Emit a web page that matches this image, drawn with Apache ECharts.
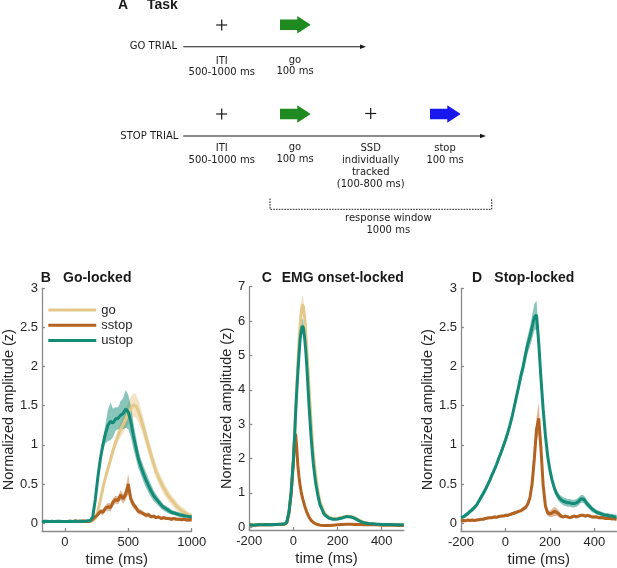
<!DOCTYPE html>
<html><head><meta charset="utf-8">
<script src="https://cdn.jsdelivr.net/npm/echarts@6/dist/echarts.min.js"></script>
<style>html,body{margin:0;padding:0;background:#fff}#c{width:617px;height:568px}</style>
</head><body><div id="c"></div>
<script>
// ---------- Panel B: go-locked ----------
const tB = [-180,-160,-140,-120,-100,-80,-60,-40,-20,0,20,40,60,80,100,120,140,160,180,200,
  220,240,260,280,300,320,340,360,380,400,420,440,460,480,500,520,540,560,580,600,
  620,640,660,680,700,720,740,760,780,800,820,840,860,880,900,920,940,960,980,1000];
const goB = [0.02,0.02,0.02,0.02,0.02,0.02,0.02,0.02,0.02,0.02,0.02,0.02,0.02,0.02,0.02,0.02,0.02,0.02,0.02,0.02,
  0.03,0.06,0.15,0.29,0.45,0.58,0.70,0.81,0.93,1.03,1.12,1.20,1.26,1.33,1.40,1.46,1.51,1.50,1.43,1.33,
  1.22,1.10,0.98,0.87,0.76,0.66,0.58,0.51,0.45,0.39,0.34,0.30,0.26,0.22,0.19,0.16,0.14,0.12,0.10,0.09];
const goBhw = [0.01,0.01,0.01,0.01,0.01,0.01,0.01,0.01,0.01,0.01,0.01,0.01,0.01,0.01,0.01,0.01,0.01,0.01,0.01,0.01,
  0.01,0.02,0.04,0.04,0.04,0.05,0.06,0.06,0.07,0.07,0.08,0.10,0.11,0.12,0.14,0.15,0.15,0.15,0.14,0.13,
  0.12,0.11,0.10,0.10,0.09,0.09,0.08,0.08,0.08,0.07,0.07,0.06,0.06,0.06,0.05,0.05,0.05,0.04,0.04,0.04];
const sstB = [0.02,0.02,0.025,0.02,0.02,0.02,0.025,0.02,0.02,0.02,0.02,0.025,0.02,0.03,0.025,0.02,0.03,0.025,0.02,0.03,
  0.05,0.08,0.11,0.15,0.14,0.19,0.21,0.20,0.27,0.30,0.29,0.36,0.31,0.37,0.50,0.31,0.24,0.20,0.15,0.14,
  0.12,0.10,0.11,0.08,0.09,0.07,0.08,0.06,0.07,0.06,0.06,0.05,0.06,0.05,0.05,0.045,0.05,0.04,0.045,0.04];
const sstBhw = [0.01,0.01,0.01,0.01,0.01,0.01,0.01,0.01,0.01,0.01,0.01,0.01,0.01,0.01,0.01,0.01,0.01,0.01,0.01,0.01,
  0.01,0.02,0.03,0.03,0.04,0.04,0.05,0.05,0.05,0.05,0.05,0.06,0.06,0.07,0.13,0.06,0.05,0.04,0.04,0.03,
  0.03,0.03,0.03,0.02,0.02,0.02,0.02,0.02,0.02,0.02,0.02,0.02,0.02,0.02,0.02,0.02,0.02,0.02,0.02,0.02];
const ustB = [0.02,0.025,0.02,0.02,0.025,0.02,0.02,0.025,0.02,0.02,0.02,0.025,0.02,0.025,0.02,0.03,0.02,0.025,0.03,0.03,
  0.08,0.30,0.58,0.82,1.00,1.14,1.25,1.30,1.28,1.33,1.34,1.38,1.40,1.46,1.42,1.30,1.12,0.97,0.82,0.72,
  0.63,0.55,0.48,0.41,0.35,0.31,0.27,0.23,0.20,0.18,0.16,0.14,0.13,0.12,0.11,0.10,0.095,0.09,0.085,0.08];
const ustBhw = [0.01,0.01,0.01,0.01,0.01,0.01,0.01,0.01,0.01,0.01,0.01,0.01,0.01,0.01,0.01,0.01,0.01,0.01,0.01,0.01,
  0.02,0.05,0.05,0.05,0.08,0.12,0.20,0.24,0.18,0.15,0.14,0.18,0.20,0.24,0.22,0.20,0.17,0.14,0.12,0.10,
  0.10,0.10,0.09,0.08,0.07,0.06,0.05,0.05,0.04,0.04,0.04,0.03,0.03,0.03,0.03,0.03,0.03,0.03,0.03,0.03];

// ---------- Panel C: EMG onset-locked ----------
const tC = [-200,-180,-160,-140,-120,-100,-80,-60,-40,-30,-20,-10,
  0,5,10,15,20,25,30,35,40,45,50,55,60,70,80,90,100,110,120,
  140,160,180,200,220,240,260,280,300,320,340,360,380,400,420,440,460,480,500];
const goC = [0.07,0.06,0.07,0.07,0.08,0.07,0.08,0.09,0.10,0.16,0.45,1.05,
  2.0,2.65,3.4,4.1,4.75,5.35,5.85,6.25,6.48,6.42,6.15,5.75,5.25,4.15,3.05,2.15,1.55,1.08,0.75,
  0.42,0.29,0.25,0.26,0.29,0.32,0.32,0.27,0.20,0.15,0.12,0.10,0.09,0.09,0.08,0.08,0.08,0.07,0.07];
const goChw = [0.02,0.02,0.02,0.02,0.02,0.02,0.02,0.02,0.02,0.03,0.05,0.08,
  0.10,0.12,0.14,0.16,0.18,0.20,0.22,0.25,0.28,0.25,0.22,0.20,0.18,0.15,0.12,0.10,0.08,0.06,0.05,
  0.04,0.04,0.04,0.04,0.04,0.04,0.04,0.04,0.03,0.03,0.03,0.03,0.02,0.02,0.02,0.02,0.02,0.02,0.02];
const sstC = [0.07,0.06,0.07,0.07,0.07,0.07,0.08,0.08,0.09,0.13,0.42,1.0,
  1.9,2.55,2.72,2.3,1.8,1.48,1.22,1.03,0.88,0.76,0.64,0.54,0.45,0.30,0.20,0.14,0.10,0.08,0.06,
  0.05,0.05,0.06,0.07,0.08,0.09,0.09,0.08,0.08,0.07,0.07,0.07,0.07,0.06,0.06,0.06,0.06,0.05,0.05];
const sstChw = [0.02,0.02,0.02,0.02,0.02,0.02,0.02,0.02,0.02,0.02,0.04,0.06,
  0.08,0.10,0.10,0.09,0.08,0.07,0.06,0.05,0.05,0.04,0.04,0.03,0.03,0.03,0.02,0.02,0.02,0.02,0.02,
  0.02,0.02,0.02,0.02,0.02,0.02,0.02,0.02,0.02,0.02,0.02,0.02,0.02,0.02,0.02,0.02,0.02,0.02,0.02];
const ustC = [0.07,0.06,0.07,0.07,0.08,0.07,0.08,0.09,0.10,0.15,0.45,1.05,
  2.0,2.6,3.35,3.95,4.5,5.0,5.45,5.72,5.86,5.80,5.55,5.2,4.75,3.6,2.62,1.85,1.32,0.95,0.66,
  0.37,0.27,0.23,0.24,0.27,0.31,0.30,0.25,0.18,0.13,0.11,0.10,0.09,0.08,0.08,0.08,0.07,0.07,0.07];
const ustChw = [0.02,0.02,0.02,0.02,0.02,0.02,0.02,0.02,0.02,0.03,0.05,0.07,
  0.09,0.10,0.12,0.13,0.15,0.16,0.18,0.20,0.22,0.20,0.18,0.16,0.14,0.12,0.10,0.08,0.06,0.05,0.04,
  0.04,0.04,0.04,0.04,0.04,0.04,0.04,0.04,0.03,0.03,0.03,0.02,0.02,0.02,0.02,0.02,0.02,0.02,0.02];

// ---------- Panel D: stop-locked ----------
const tD = [-200,-190,-180,-170,-160,-150,-140,-130,-120,-110,-100,-90,-80,-70,-60,-50,-40,-30,-20,-10,
  0,10,20,30,40,50,60,70,80,90,100,110,120,130,140,150,160,170,180,190,
  200,210,220,230,240,250,260,270,280,290,300,310,320,330,340,350,360,370,380,390,
  400,410,420,430,440,450,460,470,480,490,500];
const sstD = [0.03,0.035,0.03,0.04,0.035,0.04,0.035,0.04,0.045,0.05,0.05,0.06,0.065,0.07,0.07,0.08,0.075,0.085,0.09,0.09,
  0.10,0.10,0.11,0.12,0.13,0.14,0.15,0.16,0.18,0.20,0.24,0.32,0.50,0.82,1.20,1.34,0.95,0.48,0.22,0.13,
  0.12,0.13,0.15,0.14,0.12,0.09,0.08,0.09,0.08,0.07,0.08,0.09,0.08,0.09,0.10,0.10,0.09,0.10,0.09,0.08,
  0.08,0.08,0.07,0.07,0.07,0.06,0.06,0.06,0.055,0.055,0.05];
const sstDhw = [0.015,0.015,0.015,0.015,0.015,0.015,0.015,0.015,0.015,0.015,0.015,0.015,0.015,0.015,0.015,0.015,0.015,0.015,0.015,0.015,
  0.02,0.02,0.02,0.02,0.02,0.02,0.02,0.02,0.03,0.03,0.03,0.04,0.06,0.10,0.15,0.20,0.12,0.06,0.04,0.04,
  0.04,0.05,0.06,0.05,0.04,0.03,0.02,0.02,0.02,0.02,0.02,0.02,0.02,0.02,0.02,0.02,0.02,0.02,0.02,0.02,
  0.02,0.02,0.02,0.02,0.02,0.02,0.02,0.02,0.02,0.02,0.02];
const ustD = [0.07,0.08,0.10,0.12,0.15,0.17,0.20,0.23,0.28,0.33,0.38,0.43,0.49,0.55,0.62,0.68,0.75,0.83,0.90,0.98,
  1.06,1.15,1.25,1.36,1.49,1.62,1.75,1.89,2.00,2.15,2.28,2.38,2.50,2.63,2.66,2.30,1.85,1.45,1.12,0.86,
  0.68,0.55,0.45,0.38,0.33,0.30,0.28,0.27,0.26,0.26,0.25,0.25,0.26,0.28,0.31,0.31,0.28,0.24,0.21,0.18,
  0.16,0.14,0.13,0.12,0.11,0.10,0.10,0.09,0.09,0.08,0.08];
const ustDhw = [0.02,0.02,0.03,0.03,0.03,0.03,0.03,0.03,0.03,0.04,0.04,0.04,0.04,0.04,0.04,0.04,0.04,0.05,0.05,0.05,
  0.05,0.05,0.05,0.06,0.06,0.07,0.07,0.08,0.09,0.10,0.11,0.13,0.15,0.17,0.18,0.15,0.10,0.08,0.07,0.06,
  0.06,0.06,0.06,0.05,0.05,0.05,0.05,0.05,0.05,0.05,0.05,0.05,0.05,0.05,0.05,0.05,0.05,0.04,0.04,0.04,
  0.03,0.03,0.03,0.03,0.03,0.03,0.03,0.03,0.03,0.03,0.03];

// ---------- tick labels ----------
const ticksBx = [0, 500, 1000];
const ticksCx = [-200, 0, 200, 400];
const ticksDx = [-200, 0, 200, 400];
const ticksBy = [0, 0.5, 1, 1.5, 2, 2.5, 3];
const ticksCy = [0, 1, 2, 3, 4, 5, 6, 7];
const ticksDy = [0, 0.5, 1, 1.5, 2, 2.5, 3];

const conditions = ['go', 'sstop', 'ustop'];

// ---------- styling ----------
const FONT = 'Liberation Sans, Arial, Helvetica, sans-serif';
const AFONT = '10px "DejaVu Sans", Verdana, sans-serif';
const COL = { go: '#E4C88A', sstop: '#B3621F', ustop: '#138B77' };
const BAND = { go: 0.5, sstop: 0.45, ustop: 0.5 };
const AXC = '#8a8a8a';
const TXT = '#262626';

function zip(t, v) { return t.map((x, i) => [x, v[i]]); }

function condSeries(gi, key, t, c, h) {
  const color = COL[key];
  const bandData = t.map((x, i) => [x, c[i] - h[i], c[i] + h[i]]);
  const n = bandData.length;
  return [
    { type: 'custom', name: key + ' band', xAxisIndex: gi, yAxisIndex: gi, data: bandData, silent: true,
      encode: { x: 0, y: [1, 2] },
      renderItem(params, api) {
        if (params.dataIndexInside !== 0) return null;
        const len = params.dataInsideLength || n;
        const top = [], bot = [];
        for (let j = 0; j < len; j++) {
          top.push(api.coord([api.value(0, j), api.value(2, j)]));
          bot.push(api.coord([api.value(0, j), api.value(1, j)]));
        }
        return { type: 'polygon', shape: { points: top.concat(bot.reverse()) },
                 style: { fill: color, opacity: BAND[key] } };
      } },
    { type: 'line', name: key, xAxisIndex: gi, yAxisIndex: gi, data: zip(t, c), symbol: 'none',
      lineStyle: { color, width: 3 }, itemStyle: { color } }
  ];
}

const plainFmt = v => String(v);
function xAx(gi, min, max, ticks) {
  return {
    gridIndex: gi, type: 'value', min, max,
    axisLine: { show: true, onZero: false, lineStyle: { color: AXC, width: 1.3 } },
    axisTick: { show: true, inside: true, length: 3, lineStyle: { color: AXC, width: 1.3 }, customValues: ticks },
    axisLabel: { color: TXT, fontSize: 13, margin: 5, fontFamily: FONT, customValues: ticks, formatter: plainFmt },
    splitLine: { show: false },
    name: 'time (ms)', nameLocation: 'middle', nameGap: 21,
    nameTextStyle: { fontSize: 15, color: TXT, fontFamily: FONT }
  };
}
function yAx(gi, min, max, ticks, gap) {
  return {
    gridIndex: gi, type: 'value', min, max,
    axisLine: { show: true, onZero: false, lineStyle: { color: AXC, width: 1.3 } },
    axisTick: { show: true, inside: true, length: 3, lineStyle: { color: AXC, width: 1.3 }, customValues: ticks },
    axisLabel: { color: TXT, fontSize: 13, margin: 4, fontFamily: FONT, customValues: ticks, formatter: plainFmt },
    splitLine: { show: false },
    name: 'Normalized amplitude (z)', nameLocation: 'middle', nameGap: gap,
    nameTextStyle: { fontSize: 14.5, color: TXT, fontFamily: FONT }
  };
}

// ---------- Panel A task diagram (graphic) ----------
const INK = '#1a1a1a';
function txt(x, y, s, align, font) {
  return { type: 'text', x, y, silent: true,
    style: { text: s, font: font || AFONT, fill: INK, align: align || 'center', verticalAlign: 'middle',
             textAlign: align || 'center', textVerticalAlign: 'middle' } };
}
function plus(x, y) {
  return [
    { type: 'line', shape: { x1: x - 5.5, y1: y, x2: x + 5.5, y2: y }, style: { stroke: INK, lineWidth: 1.2 } },
    { type: 'line', shape: { x1: x, y1: y - 5.5, x2: x, y2: y + 5.5 }, style: { stroke: INK, lineWidth: 1.2 } }
  ];
}
function cue(x0, yc, color) {
  return { type: 'polygon', shape: { points: [[x0, yc - 5.3], [x0 + 17.3, yc - 5.3], [x0 + 17.3, yc - 8.7],
    [x0 + 30.7, yc], [x0 + 17.3, yc + 8.7], [x0 + 17.3, yc + 5.3], [x0, yc + 5.3]] }, style: { fill: color } };
}
function timeline(x1, x2, y) {
  return [
    { type: 'line', shape: { x1, y1: y, x2: x2 - 4, y2: y }, style: { stroke: INK, lineWidth: 1.1 } },
    { type: 'polygon', shape: { points: [[x2 - 6, y - 2.2], [x2, y], [x2 - 6, y + 2.2]] }, style: { fill: INK } }
  ];
}
const GREEN = '#1f8a1f', BLUE = '#1717ee';
const BOLD = 'bold 14px ' + FONT;
const graphics = [
  txt(118, 5, 'A', 'left', BOLD), txt(147, 5, 'Task', 'left', BOLD),
  ...plus(221.7, 25), cue(280, 24.7, GREEN),
  txt(177, 46.7, 'GO TRIAL', 'right'), ...timeline(183.3, 366, 46.7),
  txt(221.7, 61, 'ITI'), txt(221.7, 72.7, '500-1000 ms'),
  txt(295, 60, 'go'), txt(295, 71.5, '100 ms'),
  ...plus(221.7, 114), cue(280, 114, GREEN), ...plus(370.7, 113.5), cue(430, 114, BLUE),
  txt(178.3, 136, 'STOP TRIAL', 'right'), ...timeline(183.3, 486, 136),
  txt(221.7, 148.3, 'ITI'), txt(221.7, 160.7, '500-1000 ms'),
  txt(295, 147.7, 'go'), txt(295, 159.3, '100 ms'),
  txt(370.7, 148.3, 'SSD'), txt(370.7, 160.5, 'individually'), txt(370.7, 172.3, 'tracked'), txt(370.7, 184.2, '(100-800 ms)'),
  txt(445, 148.3, 'stop'), txt(445, 160.3, '100 ms'),
  { type: 'polyline', shape: { points: [[270, 198.5], [270, 209.3], [491.7, 209.3], [491.7, 198.5]] },
    style: { stroke: INK, lineWidth: 1, lineDash: [1.6, 1.2], fill: null } },
  txt(388.3, 218.3, 'response window'), txt(388.3, 230, '1000 ms'),
  // panel titles
  txt(40.7, 278.3, 'B', 'left', BOLD), txt(63, 278.3, 'Go-locked', 'left', BOLD),
  txt(261.7, 278.3, 'C', 'left', BOLD), txt(281.7, 278.3, 'EMG onset-locked', 'left', BOLD),
  txt(472, 278.3, 'D', 'left', BOLD), txt(494.3, 278.3, 'Stop-locked', 'left', BOLD)
];

const series = [
  ...condSeries(0, 'go', tB, goB, goBhw),
  ...condSeries(0, 'sstop', tB, sstB, sstBhw),
  ...condSeries(0, 'ustop', tB, ustB, ustBhw),
  ...condSeries(1, 'go', tC, goC, goChw),
  ...condSeries(1, 'sstop', tC, sstC, sstChw),
  ...condSeries(1, 'ustop', tC, ustC, ustChw),
  ...condSeries(2, 'sstop', tD, sstD, sstDhw),
  ...condSeries(2, 'ustop', tD, ustD, ustDhw)
];

const chart = echarts.init(document.getElementById('c'), null, { renderer: 'canvas' });
chart.setOption({
  animation: false,
  backgroundColor: '#fff',
  textStyle: { fontFamily: FONT },
  grid: [
    { left: 36, top: 288.3, width: 155.7, height: 242.8 },
    { left: 249.3, top: 286.7, width: 154.5, height: 243.3 },
    { left: 461, top: 288.3, width: 155.5, height: 242.8 }
  ],
  xAxis: [xAx(0, -180, 1000, ticksBx), xAx(1, -200, 500, ticksCx), xAx(2, -200, 500, ticksDx)],
  yAxis: [yAx(0, -0.1, 3, ticksBy, 18.5), yAx(1, -0.08, 7, ticksCy, 12), yAx(2, -0.1, 3, ticksDy, 21.5)],
  legend: {
    data: conditions, orient: 'vertical', left: 48.3, top: 303.5, padding: 0, icon: 'rect',
    itemWidth: 48, itemHeight: 3, itemGap: 2.3, selectedMode: false,
    textStyle: { fontSize: 13, color: TXT, fontFamily: FONT, lineHeight: 13 }
  },
  graphic: graphics,
  series
});
</script>
</body></html>
